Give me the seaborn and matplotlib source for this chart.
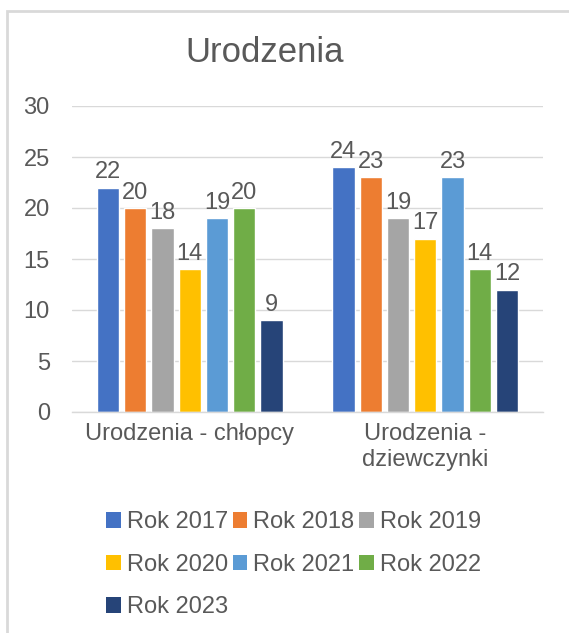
import matplotlib
matplotlib.use("Agg")
import matplotlib.pyplot as plt
from matplotlib.patches import Patch, Rectangle
import seaborn as sns
import pandas as pd

categories = ["Urodzenia - chłopcy", "Urodzenia -\ndziewczynki"]
years = ["Rok 2017", "Rok 2018", "Rok 2019", "Rok 2020", "Rok 2021", "Rok 2022", "Rok 2023"]
boys = [22, 20, 18, 14, 19, 20, 9]
girls = [24, 23, 19, 17, 23, 14, 12]
colors = ["#4472C4", "#ED7D31", "#A5A5A5", "#FFC000", "#5B9BD5", "#70AD47", "#264478"]
yticks = [0, 5, 10, 15, 20, 25, 30]

rows = []
for y, b, g in zip(years, boys, girls):
    rows.append({"cat": categories[0], "year": y, "val": b})
    rows.append({"cat": categories[1], "year": y, "val": g})
df = pd.DataFrame(rows)

sns.set_style("white")
plt.rcParams["font.family"] = ["Liberation Sans", "DejaVu Sans"]
txt = "#595959"
fs = 17

fig = plt.figure(figsize=(5.69, 6.33), dpi=100)
ax = fig.add_axes([72 / 569, 1 - 412 / 633, 471 / 569, 306 / 633])

sns.barplot(data=df, x="cat", y="val", hue="year", order=categories,
            hue_order=years, palette=colors, width=0.81, gap=0.19,
            saturation=1, legend=False, ax=ax, errorbar=None)

for cont in ax.containers:
    ax.bar_label(cont, padding=3, fontsize=fs, color=txt)

ax.set_ylim(0, 30)
ax.set_yticks(yticks)
ax.grid(axis="y", color="#D9D9D9", linewidth=1)
ax.set_axisbelow(True)
for s in ["top", "right", "left"]:
    ax.spines[s].set_visible(False)
ax.spines["bottom"].set_color("#D9D9D9")
ax.spines["bottom"].set_linewidth(1)
ax.tick_params(axis="both", length=0, labelsize=fs, colors=txt)
ax.tick_params(axis="y", pad=16)
ax.tick_params(axis="x", pad=8)
ax.set_xlabel("")
ax.set_ylabel("")
ax.set_xlim(-0.5, 1.5)

fig.text(265 / 569, 1 - 52 / 633, "Urodzenia", ha="center", va="center", fontsize=25, color=txt)

# row-major legend order for 3 columns (matplotlib fills columns 3,2,2)
order = [0, 3, 6, 1, 4, 2, 5]
handles = [Patch(facecolor=colors[i], edgecolor="none") for i in order]
labels = [years[i] for i in order]
fig.legend(handles, labels, ncol=3, loc="upper center", bbox_to_anchor=(0.516, 0.211),
           frameon=False, fontsize=fs, labelcolor=txt, handlelength=0.62,
           handleheight=0.62, handletextpad=0.25, columnspacing=0.2,
           labelspacing=0.87, borderpad=0)

fig.patches.append(Rectangle((6.5 / 569, -0.05), 1.2, 1 - 10.5 / 633 + 0.05,
                             transform=fig.transFigure, fill=False,
                             edgecolor="#D9D9D9", linewidth=2, zorder=0))

fig.savefig("out.png", dpi=100)
